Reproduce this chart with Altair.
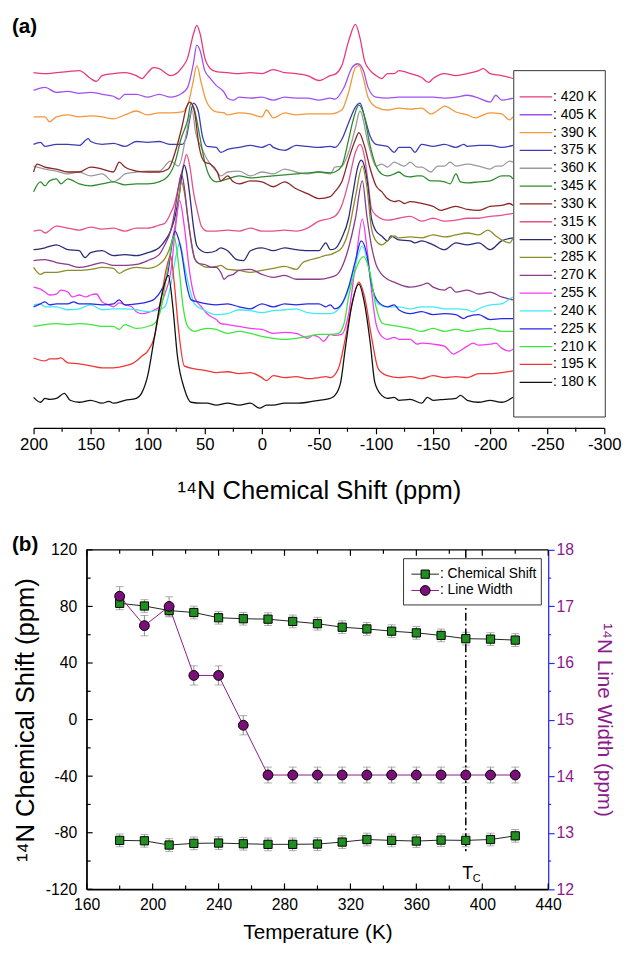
import altair as alt
import pandas as pd

FONT = "Liberation Sans"

# ---------------- panel (a): 14N spectra ----------------
temps = [420, 405, 390, 375, 360, 345, 330, 315, 300, 285, 270, 255, 240, 225, 210, 195, 180]
colors = ["#E8387C", "#A050F0", "#F5963A", "#3C3CB4", "#9A9A9A", "#2E8B2E", "#8B2525",
          "#E6508A", "#2A2A78", "#8C8C2A", "#8B3B8B", "#F03CF0", "#3DEBF5", "#2828E6",
          "#3CE63C", "#F03535", "#111111"]

ppm_420 = [200,190,180,170,160,150,145,140,130,120,110,105,100,95,90,80,75,70,65,60,57,54,50,45,40,30,20,10,0,-10,-20,-30,-40,-50,-60,-65,-70,-76,-82,-86,-90,-95,-100,-105,-110,-116,-120,-130,-140,-146,-150,-160,-170,-180,-190,-194,-200,-210,-220]
int_420 = [361,360,361,362,363,355,352,358,360,361,358,355,361,366,365,358,360,366,376,400,409,400,376,365,362,361,360,361,360,364,361,360,358,353,358,360,368,393,410,396,373,363,358,355,360,360,363,360,356,351,355,360,358,360,363,365,360,358,355]

ppm_405 = [200,190,180,170,160,150,140,130,125,120,110,100,90,80,70,65,60,57,54,50,45,40,33,30,25,20,10,0,-10,-20,-30,-40,-50,-60,-64,-72,-79,-84,-89,-93,-100,-110,-120,-130,-140,-150,-160,-170,-180,-190,-200,-205,-210,-220]
int_405 = [343,346,341,342,340,341,339,337,334,339,339,336,339,336,340,346,370,389,383,363,355,348,341,335,333,336,335,336,333,336,335,335,333,335,334,346,366,370,363,346,336,335,336,336,336,336,335,336,338,335,331,338,333,335]

ppm_390 = [200,190,186,180,170,160,150,140,130,120,110,100,90,80,70,65,60.5,57,53,49,45,40,33,30,20,10,0,-4,-10,-20,-30,-40,-50,-60,-70,-76,-82,-85,-89,-93,-100,-110,-120,-130,-140,-148,-157,-160,-170,-180,-187,-190,-200,-210,-217,-220]
int_390 = [316,316,311,316,318,316,317,316,314,318,322,318,320,320,321,328,350,368,350,333,325,321,320,318,320,319,316,323,315,320,318,319,319,319,323,341,366,368,355,336,326,323,325,324,325,319,325,327,321,318,315,316,320,319,313,316]

ppm_375 = [200,194,190,180,170,160,152,150,140,130,120,110,100,90,80,70,66,63,60,56,52,48,40,36,30,20,10,0,-7,-10,-20,-30,-40,-50,-60,-64,-70,-76,-82,-86,-90,-95,-100,-110,-116,-120,-130,-134,-140,-150,-160,-170,-177,-180,-190,-200,-210,-220]
int_375 = [288,290,286,288,288,287,294,291,288,289,286,291,290,291,288,288,296,315,330,323,296,286,285,280,283,285,287,285,288,285,282,287,286,285,286,285,293,310,326,330,316,296,288,286,280,285,285,280,288,286,288,285,288,286,287,287,285,287]

ppm_360 = [200,190,180,170,160,150,140,130,125,120,110,100,90,80,73,66,63,61,58,53,48,40,36,30,20,10,0,-10,-20,-30,-40,-50,-60,-64,-70,-76,-82,-86,-93,-100,-105,-110,-116,-120,-125,-130,-136,-140,-148,-154,-160,-165,-170,-180,-190,-200,-205,-210,-217,-220]
int_360 = [266,263,261,258,260,256,258,250,253,258,260,261,261,271,266,300,318,322,300,285,273,261,256,260,261,256,260,258,263,260,258,260,258,265,266,280,305,322,290,266,268,265,270,268,266,270,265,265,260,266,266,270,266,268,266,263,266,266,271,270]

ppm_345 = [200,194,190,186,180,176,170,160,150,140,130,120,110,100,90,82,76,71,65,62,59,55,50,46,40,30,20,10,0,-10,-20,-30,-40,-50,-60,-64,-70,-76,-80,-85,-89,-95,-100,-105,-110,-116,-120,-125,-130,-136,-140,-148,-154,-160,-165,-170,-174,-180,-190,-200,-210,-217,-220]
int_345 = [240,250,246,251,253,248,253,248,246,248,250,247,248,248,250,256,270,293,313,330,323,300,270,256,250,253,256,254,255,256,257,258,259,260,259,260,266,293,313,328,320,286,266,258,256,258,260,256,255,256,256,251,251,250,248,258,250,249,250,251,256,256,253]

ppm_330 = [200,197,190,180,170,160,150,140,130,125,120,110,100,90,82,76,70,66,63,59,55,50,45,39,36,30,25,20,10,0,-10,-20,-30,-40,-50,-60,-64,-70,-76,-82,-85,-90,-95,-100,-105,-110,-116,-120,-125,-130,-140,-150,-157,-160,-170,-180,-190,-200,-210,-217,-220]
int_330 = [260,268,265,263,260,260,265,263,260,270,265,261,260,260,263,280,306,326,331,321,286,270,268,260,251,256,250,248,251,250,245,250,243,238,233,235,240,250,273,293,300,286,263,246,240,233,230,231,228,230,228,225,221,222,225,222,221,225,226,228,226]

ppm_315 = [200,194,190,180,170,160,150,140,130,120,110,100,90,85,80,77,72,68,66,63,60,56,53,48,40,30,20,10,0,-10,-20,-30,-40,-50,-60,-65,-70,-76,-82,-86,-90,-93,-96,-100,-110,-120,-130,-140,-150,-160,-170,-180,-190,-200,-210,-220]
int_315 = [200,201,198,205,203,201,204,202,203,200,203,203,206,208,218,226,250,270,278,265,240,218,205,200,200,201,200,203,200,200,201,200,203,210,213,216,226,250,280,288,275,250,223,216,211,213,215,210,213,210,211,213,213,215,216,218]

ppm_300 = [200,190,180,170,160,155,150,140,130,120,110,100,90,85,80,76,72,70,68,66,63,60,57,53,48,40,36,30,22,16,10,0,-10,-20,-30,-40,-50,-56,-60,-64,-70,-76,-80,-84,-87,-90,-93,-96,-100,-105,-110,-113,-120,-130,-134,-140,-150,-160,-170,-180,-190,-200,-210,-220]
int_300 = [181,183,186,181,180,173,178,180,175,176,175,178,183,190,200,215,240,258,267,260,235,205,185,180,178,180,183,180,171,170,180,183,180,183,181,180,180,188,181,182,193,213,240,265,272,265,245,213,200,195,190,195,191,190,188,190,186,181,188,186,188,181,190,193]

ppm_285 = [200,194,190,180,170,160,150,140,130,125,120,110,100,90,85,80,76,73,70.5,68,65,61,58,54,48,40,36,30,20,10,0,-10,-20,-30,-36,-40,-50,-55,-60,-64,-70,-76,-82,-88,-92,-96,-100,-105,-110,-116,-120,-130,-140,-150,-160,-170,-180,-190,-198,-205,-210,-217,-220]
int_285 = [163,156,158,158,160,160,161,163,162,157,160,163,162,166,172,185,205,230,250,240,215,183,170,166,163,164,165,161,160,158,160,162,164,161,168,170,173,175,176,178,183,200,235,266,245,203,190,186,190,195,193,194,193,196,194,196,198,196,201,195,191,188,193]

ppm_270 = [200,190,180,170,160,150,140,130,120,110,100,90,85,80,76,73,70.5,68,65,62,59,55,50,44,40,36,33,30,25,20,10,0,-10,-20,-30,-40,-50,-60,-65,-70,-76,-82,-88,-92,-96,-100,-105,-110,-116,-120,-130,-140,-145,-150,-160,-165,-170,-180,-190,-200,-210,-220]
int_270 = [170,171,168,166,163,165,168,165,165,166,170,176,186,200,222,245,258,245,215,190,172,167,166,163,163,158,151,154,156,160,161,156,153,155,151,151,151,153,155,163,183,213,251,215,185,166,156,151,148,146,143,145,147,143,140,143,138,140,136,138,133,130]

ppm_255 = [200,194,190,186,180,176,170,166,160,154,150,145,140,134,130,125,120,114,110,105,100,94,90,85,79,76,72,68,63,59,53,48,40,36,30,20,10,0,-10,-20,-30,-36,-40,-45,-50,-54,-60,-64,-70,-76,-82,-88,-92,-96,-100,-105,-110,-116,-120,-130,-136,-140,-150,-160,-168,-170,-180,-185,-190,-200,-205,-210,-217,-220]
int_255 = [143,141,138,135,136,140,138,133,135,133,135,136,128,125,123,127,125,123,118,116,117,120,123,136,165,200,231,205,156,133,123,116,110,106,105,103,101,100,96,97,96,93,91,94,92,88,95,94,95,116,166,212,183,140,106,93,90,92,90,90,85,86,85,83,75,76,83,86,84,85,86,81,78,80]

ppm_240 = [200,194,190,180,170,160,150,140,130,120,110,100,90,85,79,75,72,68,63,59,53,48,40,30,20,10,0,-10,-20,-30,-40,-50,-60,-70,-76,-82,-88,-93,-97,-102,-110,-120,-130,-140,-150,-160,-170,-180,-185,-190,-200,-210,-217,-220]
int_240 = [125,126,123,123,120,121,125,120,121,121,120,118,120,123,150,176,188,166,140,126,121,118,115,116,120,119,117,119,120,121,117,116,116,125,140,166,185,166,140,126,123,123,121,123,123,121,121,120,118,121,125,126,131,133]

ppm_225 = [200,194,190,186,180,170,165,160,150,140,130,125,120,110,100,94,88,82,79,76,73,70.6,66,62,56,48,40,30,20,10,0,-10,-20,-30,-40,-50,-56,-60,-64,-70,-76,-82,-87,-92,-96,-102,-110,-116,-120,-130,-140,-150,-160,-170,-177,-180,-190,-200,-210,-220]
int_225 = [123,126,128,125,126,126,128,126,126,125,126,130,125,126,128,131,140,160,185,200,192,180,146,130,128,126,125,126,123,121,126,123,126,125,126,126,123,125,121,126,143,170,190,176,146,128,123,125,120,116,118,115,116,115,111,113,115,110,111,111]

ppm_210 = [200,190,180,170,160,150,140,130,125,120,110,100,94,88,82,77,73,69,65,59,53,48,40,30,20,10,0,-10,-20,-30,-40,-50,-60,-67,-72,-76,-82,-89,-95,-100,-106,-110,-120,-130,-140,-150,-160,-170,-180,-190,-200,-210,-220]
int_210 = [103,105,106,105,106,105,103,103,100,105,101,103,106,123,166,195,166,123,103,98,100,101,100,96,98,96,93,91,90,91,93,95,95,96,106,133,160,174,156,123,106,105,103,101,98,101,98,100,98,100,101,98,98]

ppm_195 = [200,190,186,180,176,170,160,150,140,130,120,114,110,105,100,94,88,84,80,77,73,68,59,48,40,30,20,10,0,-4,-10,-20,-30,-40,-50,-56,-60,-67,-73,-79,-85,-90,-96,-102,-110,-120,-130,-140,-150,-160,-170,-180,-190,-200,-210,-220]
int_195 = [71,68,70,70,71,66,65,63,61,61,63,65,68,73,78,93,133,160,175,150,100,63,60,58,56,57,55,56,51,48,53,51,52,50,51,52,51,60,90,126,148,133,93,60,53,51,52,50,53,51,52,51,55,55,56,58]

ppm_180 = [200,194,190,186,180,173,168,160,150,140,134,130,120,110,105,100,94,88,82,78,74,68,62,53,48,40,30,20,10,2,-4,-10,-20,-30,-40,-50,-60,-64,-69,-73,-79,-85,-90,-95,-99,-105,-110,-116,-120,-130,-140,-145,-150,-160,-170,-174,-180,-190,-200,-210,-220]
int_180 = [31,26,30,29,30,35,28,26,28,25,27,25,28,30,36,53,93,133,155,123,73,40,26,25,25,23,25,23,25,20,23,23,25,25,26,28,30,33,46,80,126,146,126,86,46,33,30,31,28,29,25,31,28,29,30,33,28,26,28,26,31]

ppm_lists = [ppm_420, ppm_405, ppm_390, ppm_375, ppm_360, ppm_345, ppm_330, ppm_315, ppm_300,
             ppm_285, ppm_270, ppm_255, ppm_240, ppm_225, ppm_210, ppm_195, ppm_180]
int_lists = [int_420, int_405, int_390, int_375, int_360, int_345, int_330, int_315, int_300,
             int_285, int_270, int_255, int_240, int_225, int_210, int_195, int_180]

top_major = [200, 150, 100, 50, 0, -50, -100, -150, -200, -250, -300]
top_minor = [175, 125, 75, 25, -25, -75, -125, -175, -225, -275]

# ---------------- panel (b): shift / width vs temperature ----------------
T = [180, 195, 210, 225, 240, 255, 270, 285, 300, 315, 330, 345, 360, 375, 390, 405, 420]
shift_hi = [82.2, 80.3, 77.1, 75.7, 72.0, 71.3, 71.0, 69.4, 67.8, 65.3, 64.1, 62.5, 61.3, 59.5, 57.2, 56.9, 56.2]
shift_lo = [-85.4, -85.7, -88.7, -87.5, -87.3, -87.8, -88.2, -88.2, -88.0, -86.6, -84.8, -85.4, -85.9, -85.2, -85.4, -84.8, -82.2]
shift_err = [4.5, 4.5, 4.5, 4.5, 4.5, 4.5, 4.5, 4.5, 4.5, 4.5, 4.5, 4.5, 4.5, 4.5, 4.5, 4.5, 4.5]
width = [17.18, 16.66, 17.00, 15.78, 15.78, 14.90, 14.02, 14.02, 14.02, 14.02, 14.02, 14.02, 14.02, 14.02, 14.02, 14.02, 14.02]
width_err = [0.17, 0.18, 0.17, 0.17, 0.17, 0.17, 0.14, 0.14, 0.14, 0.14, 0.14, 0.14, 0.14, 0.14, 0.14, 0.14, 0.14]
Tc = 390
x_major = [160, 200, 240, 280, 320, 360, 400, 440]
x_minor = [180, 220, 260, 300, 340, 380, 420]
yl_major = [-120, -80, -40, 0, 40, 80, 120]
yl_minor = [-100, -60, -20, 20, 60, 100]
yr_major = [12, 13, 14, 15, 16, 17, 18]
yr_minor = [12.5, 13.5, 14.5, 15.5, 16.5, 17.5]

# ================= build panel (a) =================
rows = []
for t, px, iy in zip(temps, ppm_lists, int_lists):
    assert len(px) == len(iy), (t, len(px), len(iy))
    for a, b in zip(px, iy):
        rows.append({"T": f"{t} K", "ppm": a, "I": b})
spec = pd.DataFrame(rows)

TW, TH = 580, 413
xsc = alt.Scale(domain=[200, -300], nice=False, zero=False)
ysc = alt.Scale(domain=[0, TH], nice=False, zero=False)
csc = alt.Scale(domain=[f"{t} K" for t in temps], range=colors)

top_axis = alt.Axis(
    values=top_major, labelExpr="'' + datum.value", tickSize=6,
    tickColor="black", tickWidth=1.2, domainColor="black", domainWidth=1.2,
    labelFontSize=17, labelColor="black", labelPadding=3, labelFlush=False, labelOverlap=False,
    grid=False, title="¹⁴N Chemical Shift (ppm)", titleFontSize=26, titleFontWeight="normal",
    titleColor="black", titlePadding=26,
)

spectra = alt.Chart(spec).mark_line(strokeWidth=1.3, interpolate="monotone").encode(
    x=alt.X("ppm:Q", scale=xsc, axis=top_axis),
    y=alt.Y("I:Q", scale=ysc, axis=None),
    color=alt.Color("T:N", scale=csc, legend=None),
    order=alt.Order("ppm:Q", sort="descending"),
)
top_minor_ticks = alt.Chart(pd.DataFrame({"ppm": top_minor})).mark_rule(
    color="black", strokeWidth=1.2).encode(
    x=alt.X("ppm:Q", scale=xsc, axis=top_axis), y=alt.value(TH), y2=alt.value(TH + 4))

one = pd.DataFrame({"k": [0]})
leg_box = alt.Chart(one).mark_rect(fill="white", stroke="#333333", strokeWidth=1).encode(
    x=alt.value(488), x2=alt.value(581), y=alt.value(50), y2=alt.value(402))

leg = pd.DataFrame({"T": [f"{t} K" for t in temps],
                    "label": [f": {t} K" for t in temps],
                    "rank": list(range(len(temps)))})
rank_sc = alt.Scale(domain=[0, len(temps) - 1], range=[76.7, 366.7], zero=False, nice=False)
leg_lines = alt.Chart(leg).mark_rule(strokeWidth=1.3).encode(
    x=alt.value(494), x2=alt.value(527),
    y=alt.Y("rank:Q", scale=rank_sc, axis=None),
    color=alt.Color("T:N", scale=csc, legend=None))
leg_text = alt.Chart(leg).mark_text(align="left", baseline="middle", fontSize=14, font=FONT,
                                    color="black").encode(
    x=alt.value(528), y=alt.Y("rank:Q", scale=rank_sc, axis=None), text="label:N")

a_lab = alt.Chart(one).mark_text(text="(a)", align="left", baseline="middle", fontSize=21,
                                 fontWeight="bold", font=FONT, color="black").encode(
    x=alt.value(-22), y=alt.value(6))

top = alt.layer(spectra, top_minor_ticks, leg_box, leg_lines, leg_text, a_lab).resolve_scale(
    y="independent").properties(width=TW, height=TH)

# ================= build panel (b) =================
OFF = 54             # plot area starts 54 px right of the shared column origin
BW, BH = 469, 345
RW = OFF + BW
bx = alt.Scale(domain=[160, 440], range=[OFF, RW], nice=False, zero=False)
byl = alt.Scale(domain=[-120, 120], nice=False, zero=False)
byr = alt.Scale(domain=[12, 18], nice=False, zero=False)

X_AX = alt.Axis(values=x_major, ticks=False, labelExpr="'' + datum.value", labelFontSize=16,
                labelColor="black", labelPadding=8, labelFlush=False, labelOverlap=False,
                grid=False, domainColor="black", domainWidth=1.2, title="Temperature (K)",
                titleFontSize=21, titleFontWeight="normal", titleColor="black", titlePadding=9)


def xenc():
    return alt.X("T:Q", scale=bx, axis=X_AX)


YL_AX = alt.Axis(orient="left", offset=-OFF, values=yl_major, ticks=False,
                 labelExpr="'' + datum.value", labelFontSize=16, labelColor="black",
                 labelPadding=10, grid=False, domainColor="black", domainWidth=1.2,
                 title="¹⁴N Chemical Shift (ppm)", titleFontSize=26, titleFontWeight="normal",
                 titleColor="black", titlePadding=7)
BLUE = "#2B2BF0"
LWC = "#8B1A8B"
YR_AX = alt.Axis(orient="right", values=yr_major, labelExpr="'' + datum.value", tickSize=6,
                 tickColor=BLUE, tickWidth=1.2, domainColor=BLUE, domainWidth=1.3,
                 labelFontSize=16, labelColor=LWC, labelPadding=2, labelOverlap=False,
                 grid=False, title="¹⁴N Line Width (ppm)", titleFontSize=21,
                 titleFontWeight="normal", titleColor=LWC, titlePadding=20)

sh = pd.DataFrame({
    "T": T + T,
    "v": shift_hi + shift_lo,
    "lo": [v - e for v, e in zip(shift_hi, shift_err)] + [v - e for v, e in zip(shift_lo, shift_err)],
    "hi": [v + e for v, e in zip(shift_hi, shift_err)] + [v + e for v, e in zip(shift_lo, shift_err)],
    "branch": ["hi"] * len(T) + ["lo"] * len(T),
})
wd = pd.DataFrame({
    "T": T, "w": width,
    "lo": [v - e for v, e in zip(width, width_err)],
    "hi": [v + e for v, e in zip(width, width_err)],
})

GRAY = "#8C8C8C"
sh_bar = alt.Chart(sh).mark_rule(color=GRAY, strokeWidth=1).encode(
    x=xenc(), y=alt.Y("lo:Q", scale=byl, axis=None), y2="hi:Q")
sh_cap = alt.Chart(sh).transform_fold(["lo", "hi"], as_=["k", "e"]).mark_tick(
    orient="horizontal", size=8, thickness=1, color=GRAY).encode(
    x=xenc(), y=alt.Y("e:Q", scale=byl, axis=None))
wd_bar = alt.Chart(wd).mark_rule(color=GRAY, strokeWidth=1).encode(
    x=xenc(), y=alt.Y("lo:Q", scale=byr, axis=None), y2="hi:Q")
wd_cap = alt.Chart(wd).transform_fold(["lo", "hi"], as_=["k", "e"]).mark_tick(
    orient="horizontal", size=8, thickness=1, color=GRAY).encode(
    x=xenc(), y=alt.Y("e:Q", scale=byr, axis=None))

sh_line = alt.Chart(sh).mark_line(color="#222222", strokeWidth=1).encode(
    x=xenc(), y=alt.Y("v:Q", scale=byl, axis=None), detail="branch:N")
wd_line = alt.Chart(wd).mark_line(color=LWC, strokeWidth=1).encode(
    x=xenc(), y=alt.Y("w:Q", scale=byr, axis=None))

GREEN = "#1F8F1F"
PURPLE = "#7A0F7A"
sh_pts = alt.Chart(sh).mark_point(shape="square", filled=True, fill=GREEN, stroke="black",
                                  strokeWidth=1, size=70, opacity=1).encode(
    x=xenc(), y=alt.Y("v:Q", scale=byl, axis=YL_AX))
wd_pts = alt.Chart(wd).mark_point(shape="circle", filled=True, fill=PURPLE, stroke="black",
                                  strokeWidth=1, size=100, opacity=1).encode(
    x=xenc(), y=alt.Y("w:Q", scale=byr, axis=YR_AX))

tc_df = pd.DataFrame({"T": [Tc], "a": [120], "b": [-93]})
tc_line = alt.Chart(tc_df).mark_rule(color="black", strokeWidth=1.5, strokeDash=[8, 3, 2, 3]).encode(
    x=xenc(), y=alt.Y("a:Q", scale=byl, axis=None), y2="b:Q")
tc_lab = pd.DataFrame({"T": [Tc], "y": [-109]})
tc_T = alt.Chart(tc_lab).mark_text(text="T", fontSize=18, font=FONT, color="black", dx=2).encode(
    x=xenc(), y=alt.Y("y:Q", scale=byl, axis=None))
tc_C = alt.Chart(tc_lab).mark_text(text="C", fontSize=11, font=FONT, color="black", dx=11, dy=5).encode(
    x=xenc(), y=alt.Y("y:Q", scale=byl, axis=None))


def xticks(vals, y0, y1):
    return alt.Chart(pd.DataFrame({"T": vals})).mark_rule(color="black", strokeWidth=1.2).encode(
        x=xenc(), y=alt.value(y0), y2=alt.value(y1))


def yticks(vals, ln):
    return alt.Chart(pd.DataFrame({"v": vals})).mark_rule(color="black", strokeWidth=1.2).encode(
        y=alt.Y("v:Q", scale=byl, axis=None), x=alt.value(OFF), x2=alt.value(OFF + ln))


yr_minor_ticks = alt.Chart(pd.DataFrame({"v": yr_minor})).mark_rule(color=BLUE, strokeWidth=1.2).encode(
    y=alt.Y("v:Q", scale=byr, axis=None), x=alt.value(RW), x2=alt.value(RW + 3))

frame_top = alt.Chart(one).mark_rule(color="black", strokeWidth=1.2).encode(
    x=alt.value(OFF), x2=alt.value(RW), y=alt.value(0))
frame_bot = alt.Chart(one).mark_rule(color="black", strokeWidth=1.2).encode(
    x=alt.value(OFF), x2=alt.value(RW), y=alt.value(BH))
frame_left = alt.Chart(one).mark_rule(color="black", strokeWidth=1.2).encode(
    x=alt.value(OFF), y=alt.value(0), y2=alt.value(BH))

tick_layers = [xticks(x_major, BH, BH - 6), xticks(x_minor, BH, BH - 4),
               xticks(x_major, 0, 6), xticks(x_minor, 0, 4),
               yticks(yl_major, 6), yticks(yl_minor, 4), yr_minor_ticks,
               frame_top, frame_bot, frame_left]

# legend of panel (b)
lg_box = alt.Chart(one).mark_rect(fill="white", stroke="#333333", strokeWidth=1).encode(
    x=alt.value(OFF + 322), x2=alt.value(OFF + 462), y=alt.value(9), y2=alt.value(56))
lg_l1 = alt.Chart(one).mark_rule(color="#222222", strokeWidth=1).encode(
    x=alt.value(OFF + 330), x2=alt.value(OFF + 358), y=alt.value(24.7))
lg_p1 = alt.Chart(one).mark_point(shape="square", filled=True, fill=GREEN, stroke="black",
                                  strokeWidth=1, size=70, opacity=1).encode(
    x=alt.value(OFF + 344), y=alt.value(24.7))
lg_t1 = alt.Chart(one).mark_text(text=": Chemical Shift", align="left", baseline="middle",
                                 fontSize=14, font=FONT, color="black").encode(
    x=alt.value(OFF + 359), y=alt.value(24.7))
lg_l2 = alt.Chart(one).mark_rule(color=LWC, strokeWidth=1).encode(
    x=alt.value(OFF + 330), x2=alt.value(OFF + 358), y=alt.value(41.3))
lg_p2 = alt.Chart(one).mark_point(shape="circle", filled=True, fill=PURPLE, stroke="black",
                                  strokeWidth=1, size=100, opacity=1).encode(
    x=alt.value(OFF + 344), y=alt.value(41.3))
lg_t2 = alt.Chart(one).mark_text(text=": Line Width", align="left", baseline="middle",
                                 fontSize=14, font=FONT, color="black").encode(
    x=alt.value(OFF + 359), y=alt.value(41.3))

b_lab = alt.Chart(one).mark_text(text="(b)", align="left", baseline="middle", fontSize=21,
                                 fontWeight="bold", font=FONT, color="black").encode(
    x=alt.value(-22), y=alt.value(-5))

bottom = alt.layer(
    sh_bar, sh_cap, wd_bar, wd_cap, sh_line, wd_line, tc_line, tc_T, tc_C,
    *tick_layers, sh_pts, wd_pts,
    lg_box, lg_l1, lg_p1, lg_t1, lg_l2, lg_p2, lg_t2, b_lab,
).resolve_scale(y="independent").properties(width=RW, height=BH)

chart = alt.vconcat(top, bottom, spacing=31).properties(
    padding={"left": 4, "top": 1, "right": 0, "bottom": 0}
).configure(font=FONT).configure_view(strokeWidth=0).configure_axis(
    labelFont=FONT, titleFont=FONT)

chart.save("out.html", embed_options={"renderer": "svg", "actions": False})
